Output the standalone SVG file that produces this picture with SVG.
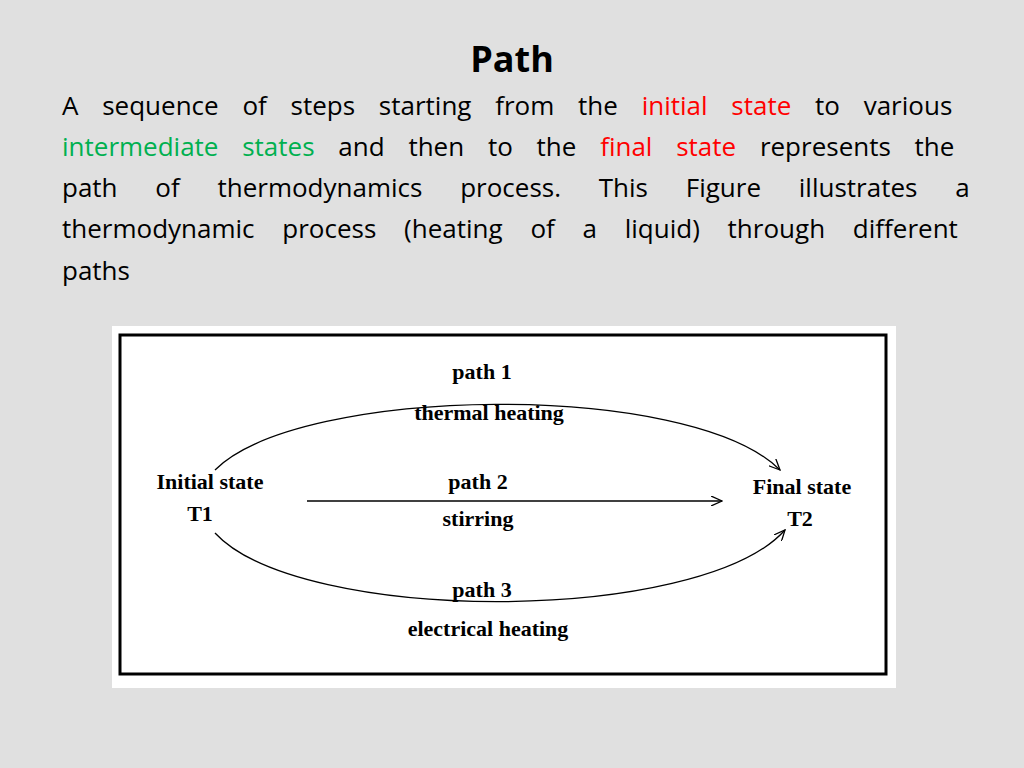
<svg xmlns="http://www.w3.org/2000/svg" width="1024" height="768" viewBox="0 0 1024 768">
<style>
.b{font-family:"Open Sans","Noto Sans",sans-serif;font-size:26px;fill:#000}
.r{fill:#ff0000}.g{fill:#00b050}
.s{font-family:"Liberation Serif",serif;font-size:22px;font-weight:bold;fill:#000;text-anchor:middle}
.c{fill:none;stroke:#000;stroke-width:1.3}
</style>
<defs><marker id="a" markerWidth="12" markerHeight="10" refX="11" refY="5" orient="auto" markerUnits="userSpaceOnUse"><path d="M0,0 L11,5 L0,10" fill="none" stroke="#000" stroke-width="1.3"/></marker></defs>
<rect width="1024" height="768" fill="#e0e0e0"/>
<text x="512" y="72" text-anchor="middle" font-family="Open Sans,Noto Sans,sans-serif" font-size="36" font-weight="bold">Path</text>
<text class="b" x="62" y="115" word-spacing="17">A sequence of steps starting from the <tspan class="r">initial state</tspan> to various</text>
<text class="b" x="62" y="156" word-spacing="17"><tspan class="g">intermediate states</tspan> and then to the <tspan class="r">final state</tspan> represents the</text>
<text class="b" x="62" y="197" word-spacing="31">path of thermodynamics process. This Figure illustrates a</text>
<text class="b" x="62" y="238" word-spacing="21">thermodynamic process (heating of a liquid) through different</text>
<text class="b" x="62" y="280">paths</text>
<rect x="112" y="326" width="784" height="362" fill="#fff"/>
<rect x="120" y="335" width="766" height="339" fill="none" stroke="#000" stroke-width="3"/>
<g id="connectors">
<path class="c" d="M215,470 C300,385 690,380 780,470" marker-end="url(#a)"/>
<path class="c" d="M307,501 L722,501" marker-end="url(#a)"/>
<path class="c" d="M215,533 C300,625 700,625 785,530" marker-end="url(#a)"/>
</g>
<g id="initial"><text class="s" x="210" y="489">Initial state</text><text class="s" x="200" y="521">T1</text></g>
<g id="final"><text class="s" x="802" y="494">Final state</text><text class="s" x="800" y="526">T2</text></g>
<g id="p1"><text class="s" x="482" y="379">path 1</text><text class="s" x="489" y="420">thermal heating</text></g>
<g id="p2"><text class="s" x="478" y="489">path 2</text><text class="s" x="478" y="526">stirring</text></g>
<g id="p3"><text class="s" x="482" y="597">path 3</text><text class="s" x="488" y="636">electrical heating</text></g>
</svg>
